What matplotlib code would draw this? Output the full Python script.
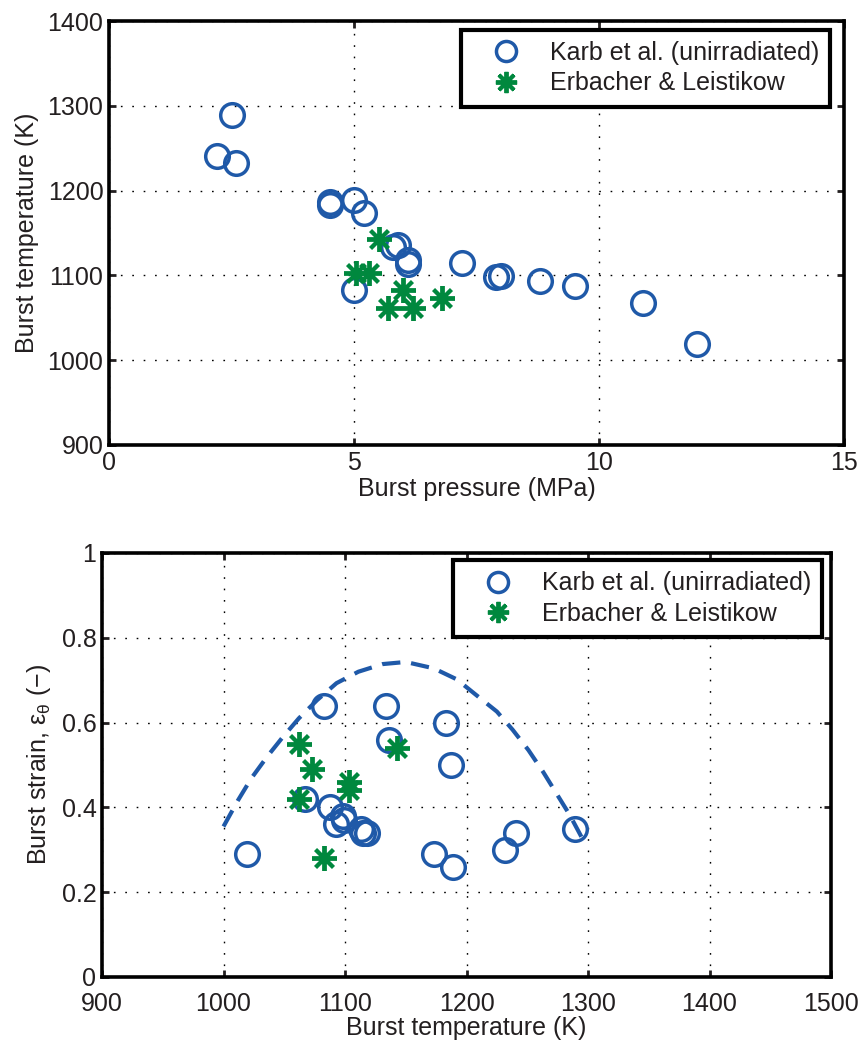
import matplotlib
matplotlib.use("Agg")
import matplotlib.pyplot as plt

plt.rcParams['font.family'] = ['Liberation Sans', 'DejaVu Sans']
plt.rcParams['font.size'] = 18

# Karb et al. (unirradiated)
karb_pressure = [2.2, 2.5, 2.6, 4.5, 4.5, 5.0, 5.2, 5.8, 5.9, 6.1, 6.1, 5.0, 7.2, 7.9, 8.0, 8.8, 9.5, 10.9, 12.0]
karb_temp = [1241, 1289, 1232, 1187, 1183, 1189, 1173, 1134, 1136, 1118, 1113, 1083, 1115, 1098, 1099, 1093, 1088, 1067, 1019]
karb_strain = [0.34, 0.35, 0.30, 0.50, 0.60, 0.26, 0.29, 0.64, 0.56, 0.34, 0.35, 0.64, 0.34, 0.38, 0.37, 0.36, 0.40, 0.42, 0.29]

# Erbacher & Leistikow
erb_pressure = [5.5, 5.05, 5.3, 6.0, 5.7, 6.2, 6.8]
erb_temp = [1143, 1103, 1103, 1083, 1062, 1062, 1073]
erb_strain = [0.54, 0.46, 0.44, 0.28, 0.55, 0.42, 0.49]

# dashed curve
curve_temp = [1000, 1012, 1023, 1036, 1048, 1062, 1077, 1093, 1111, 1131, 1150,
              1173, 1192, 1208, 1225, 1238, 1251, 1263, 1274, 1285, 1296]
curve_strain = [0.355, 0.417, 0.469, 0.52, 0.563, 0.61, 0.653, 0.693, 0.72, 0.738, 0.743,
                0.728, 0.702, 0.665, 0.626, 0.583, 0.535, 0.484, 0.433, 0.382, 0.323]

labels = ['Karb et al. (unirradiated)', 'Erbacher & Leistikow']
blue = '#1f59a8'
green = '#00883e'
txt = '#231f20'
W, H = 859, 1044


def style_axes(ax):
    for s in ax.spines.values():
        s.set_linewidth(2.6)
        s.set_color('black')
    ax.tick_params(direction='in', length=5, width=2.0, top=True, right=True,
                   labelsize=18, colors=txt, pad=4)
    ax.grid(True, color='black', linestyle=(0, (1.2, 7.0)), linewidth=1.0)
    ax.set_axisbelow(True)


def add_legend(ax, anchor):
    leg = ax.legend(loc='upper right', bbox_to_anchor=anchor, fontsize=18,
                    fancybox=False, framealpha=1, edgecolor='black',
                    handletextpad=0.4, borderpad=0.45, labelspacing=0.25,
                    handlelength=2.7, borderaxespad=0, markerscale=0.85)
    leg.get_frame().set_linewidth(3.0)
    for t in leg.get_texts():
        t.set_color(txt)


fig = plt.figure(figsize=(W / 100, H / 100), dpi=100)

# top panel
ax1 = fig.add_axes([109 / W, 1 - 445 / H, 735 / W, 424 / H])
ax1.plot(karb_pressure, karb_temp, 'o', ms=17, mfc='none', mec=blue, mew=2.5, label=labels[0])
ax1.plot(erb_pressure, erb_temp, linestyle='none', marker=(8, 2, 0), ms=18, mec=green,
         mew=2.8, label=labels[1])
ax1.set_xlim(0, 15)
ax1.set_ylim(900, 1400)
ax1.set_xticks([0, 5, 10, 15])
ax1.set_yticks([900, 1000, 1100, 1200, 1300, 1400])
ax1.set_xlabel('Burst pressure (MPa)', fontsize=18, color=txt, labelpad=2)
ax1.set_ylabel('Burst temperature (K)', fontsize=18, color=txt, labelpad=6)
style_axes(ax1)
add_legend(ax1, (0.981, 0.979))

# bottom panel
ax2 = fig.add_axes([102 / W, 1 - 977 / H, 729 / W, 424 / H])
ax2.plot(karb_temp, karb_strain, 'o', ms=17, mfc='none', mec=blue, mew=2.5, label=labels[0])
ax2.plot(erb_temp, erb_strain, linestyle='none', marker=(8, 2, 0), ms=18, mec=green,
         mew=2.8, label=labels[1])
ax2.plot(curve_temp, curve_strain, color=blue, linewidth=3.0, dashes=(4.4, 2.6))
ax2.set_xlim(900, 1500)
ax2.set_ylim(0, 1)
ax2.set_xticks([900, 1000, 1100, 1200, 1300, 1400, 1500])
ax2.set_yticks([0, 0.2, 0.4, 0.6, 0.8, 1])
ax2.set_yticklabels(['0', '0.2', '0.4', '0.6', '0.8', '1'])
ax2.set_xlabel('Burst temperature (K)', fontsize=18, color=txt, labelpad=0)
ax2.set_ylabel(r'Burst strain, $\mathregular{ε_θ}$ (−)', fontsize=18, color=txt, labelpad=6)
style_axes(ax2)
ax2.tick_params(axis='x', pad=11)
add_legend(ax2, (0.988, 0.983))

fig.savefig('out.png', dpi=100)
